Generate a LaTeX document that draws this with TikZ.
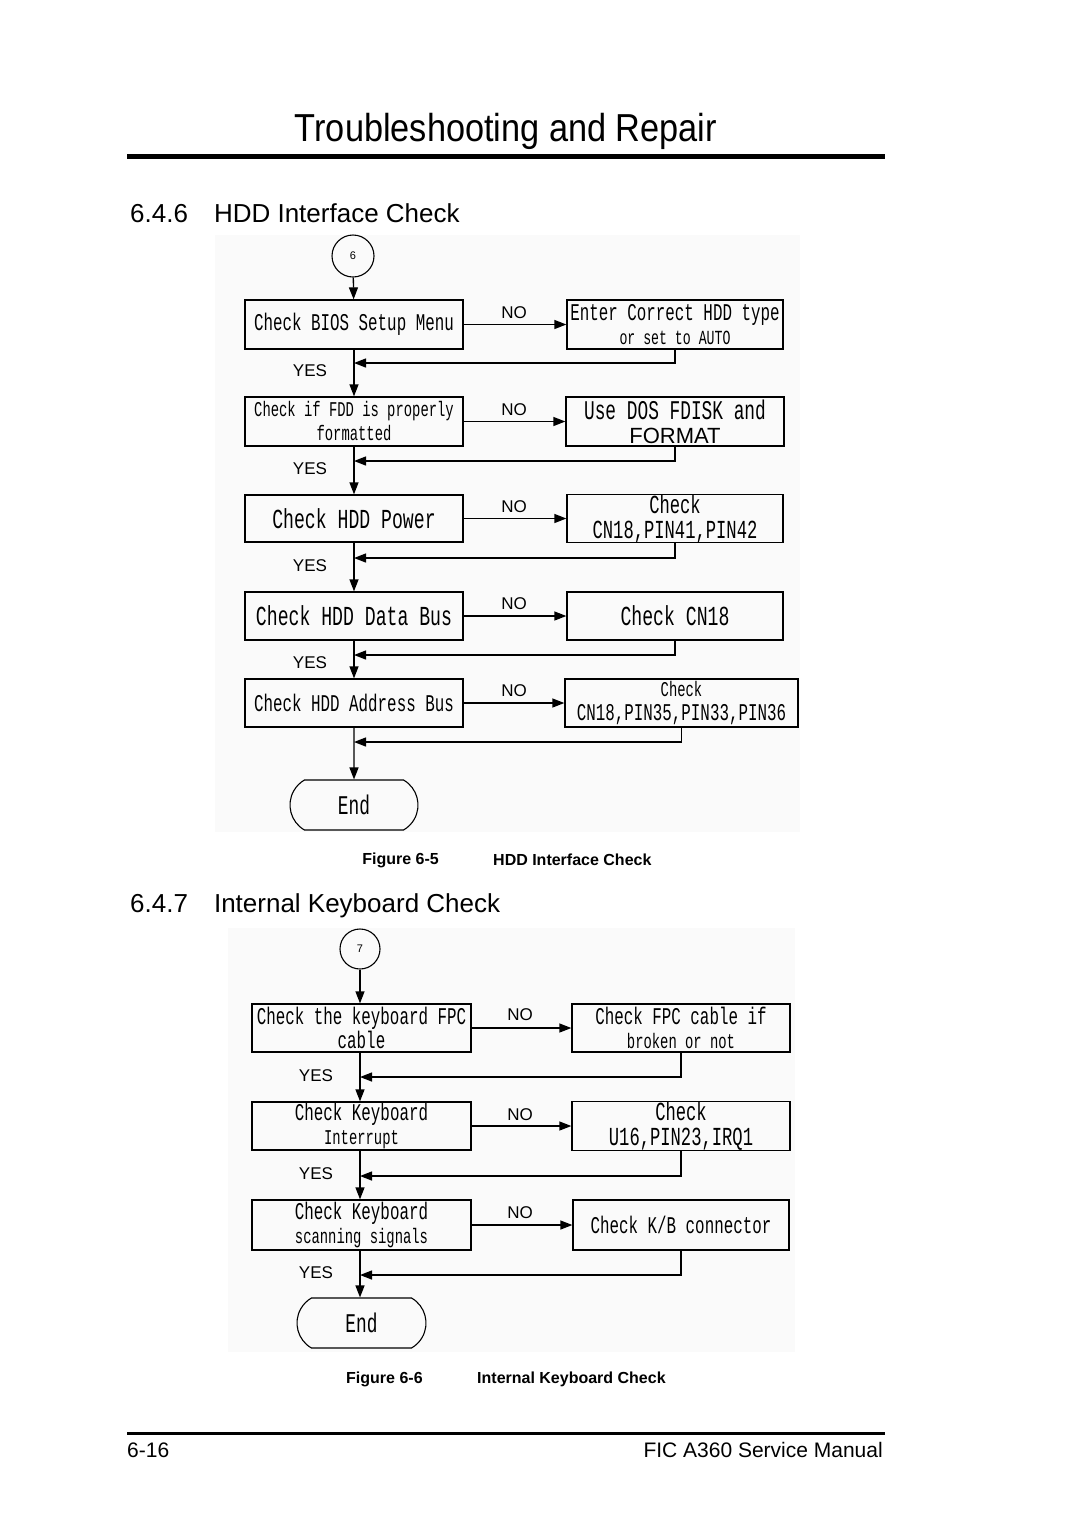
\documentclass[tikz,border=0pt]{standalone}
\usepackage{fontspec}
\setmainfont{Liberation Sans}
\newfontfamily\boxfont[FakeStretch=0.66]{Liberation Mono}
\newfontfamily\narrowfont[FakeStretch=0.88]{Liberation Sans}
\usetikzlibrary{arrows.meta,shapes.misc}
\newcommand\fsz[1]{\fontsize{#1}{24}\selectfont}
\tikzset{
  lbox/.style={draw, line width=1.3pt, minimum width=218pt, minimum height=49pt,
    inner sep=0pt, align=center, font=\boxfont\fsz{24}},
  rbox/.style={lbox, minimum width=216pt},
  endbox/.style={draw, line width=1.1pt, rounded rectangle, rounded rectangle arc length=120,
    minimum width=128pt, minimum height=50pt, inner sep=0pt, font=\boxfont\fsz{27}},
  conn/.style={draw, line width=1.1pt, circle, minimum size=42pt, inner sep=0pt,
    font=\fontsize{11}{11}\selectfont},
  arr/.style={line width=1.3pt, -{Triangle[length=12pt,width=9pt]}},
  lbl/.style={inner sep=0pt, font=\fontsize{17}{17}\selectfont},
  txt/.style={inner sep=0pt},
  capfig/.style={inner sep=0pt, font=\bfseries\fontsize{16}{16}\selectfont},
  sect/.style={inner sep=0pt, anchor=west, font=\fontsize{26}{26}\selectfont},
  bg/.style={fill=black!2, draw=none}
}
\begin{document}
\begin{tikzpicture}[x=1pt,y=-1pt]
\useasboundingbox (0,0) rectangle (1080,1527);
\fill[white] (0,0) rectangle (1080,1527);
% header
\node[txt, font=\narrowfont\fontsize{39}{39}\selectfont] (title) at (506,131) {Troubleshooting and Repair};
\draw[line width=5pt] (127,156) -- (885,156);
\node[sect] (sec1) at (130,213) {6.4.6\hspace{26pt}HDD Interface Check};
% background of figure 1
\path[bg] (215,235) rectangle (800,832);
% ---------------- HDD chart
\node[conn] (c6) at (353,256) {6};
\node[lbox] (b1) at (354,324.5) {Check BIOS Setup Menu};
\node[rbox] (r1) at (675,324.5) {Enter Correct HDD type\\{\fsz{20}or set to AUTO}};
\node[lbox] (b2) at (354,421.5) {\fsz{21}Check if FDD is properly\\\fsz{21}formatted};
\node[rbox, minimum width=218pt] (r2) at (675,421.5) {\fontsize{27}{25}\selectfont Use DOS FDISK and\\{\rmfamily\fontsize{22}{25}\selectfont FORMAT}};
\node[lbox, minimum height=47pt, font=\boxfont\fsz{27.5}] (b3) at (354,518.5) {Check HDD Power};
\node[rbox, minimum height=47pt, font=\boxfont\fontsize{26}{25}\selectfont] (r3) at (675,518.5) {Check\\CN18,PIN41,PIN42};
\node[lbox, minimum height=48pt, font=\boxfont\fsz{27.5}] (b4) at (354,616) {Check HDD Data Bus};
\node[rbox, minimum height=48pt, font=\boxfont\fsz{27.5}] (r4) at (675,616) {Check CN18};
\node[lbox, minimum height=48pt] (b5) at (354,703) {Check HDD Address Bus};
\node[rbox, minimum width=233pt, minimum height=48pt] (r5) at (681.5,703) {{\fsz{21}Check}\\CN18,PIN35,PIN33,PIN36};
\node[endbox] (e1) at (354,805) {End};

\coordinate (j1) at (354,363);
\coordinate (j2) at (354,461);
\coordinate (j3) at (354,558);
\coordinate (j4) at (354,655);
\coordinate (j5) at (354,742);

\draw[arr] (c6) -- (b1);
\draw[arr] (b1) -- (b2);
\draw[arr] (b2) -- (b3);
\draw[arr] (b3) -- (b4);
\draw[arr] (b4) -- (b5);
\draw[arr] (b5) -- (e1);
\foreach \i in {1,...,5} {
  \draw[arr] (b\i) -- (r\i);
  \draw[arr] (r\i.south) |- (j\i);
}
\node[lbl] (no1) at (514,313) {NO};
\node[lbl] (no2) at (514,409.5) {NO};
\node[lbl] (no3) at (514,507) {NO};
\node[lbl] (no4) at (514,604) {NO};
\node[lbl] (no5) at (514,691) {NO};
\node[lbl] (yes1) at (310,371) {YES};
\node[lbl] (yes2) at (310,468.5) {YES};
\node[lbl] (yes3) at (310,565.5) {YES};
\node[lbl] (yes4) at (310,663) {YES};

\node[capfig, anchor=east] (fig5) at (439,860) {Figure 6-5};
\node[capfig, anchor=west] (cap5) at (493,860) {HDD Interface Check};

% ---------------- Keyboard chart
\node[sect] (sec2) at (130,906) {6.4.7\hspace{26pt}Internal Keyboard Check};
\path[bg] (228,928) rectangle (795,1352);

\node[conn, minimum size=40pt] (c7) at (360,949) {7};
\node[lbox, minimum width=219pt, minimum height=48pt] (k1) at (361.5,1028) {Check the keyboard FPC\\cable};
\node[rbox, minimum width=218pt, minimum height=48pt] (kr1) at (681,1028) {Check FPC cable if\\\fsz{21}broken or not};
\node[lbox, minimum width=219pt, minimum height=48pt] (k2) at (361.5,1126) {Check Keyboard\\\fsz{21}Interrupt};
\node[rbox, minimum width=218pt, minimum height=48pt, font=\boxfont\fontsize{26}{25}\selectfont] (kr2) at (681,1126) {Check\\U16,PIN23,IRQ1};
\node[lbox, minimum width=219pt, minimum height=50pt] (k3) at (361.5,1225) {Check Keyboard\\\fsz{21}scanning signals};
\node[rbox, minimum height=50pt] (kr3) at (681,1225) {Check K/B connector};
\node[endbox, minimum width=129pt] (e2) at (361.5,1323) {End};

\coordinate (m1) at (360,1077);
\coordinate (m2) at (360,1176);
\coordinate (m3) at (360,1275);

\draw[arr] (c7) -- (c7 |- k1.north);
\draw[arr] (k1.south -| c7) -- (k2.north -| c7);
\draw[arr] (k2.south -| c7) -- (k3.north -| c7);
\draw[arr] (k3.south -| c7) -- (e2.north -| c7);
\draw[arr] (k1) -- (kr1);
\draw[arr] (k2) -- (kr2);
\draw[arr] (k3) -- (kr3);
\draw[arr] (kr1.south) |- (m1);
\draw[arr] (kr2.south) |- (m2);
\draw[arr] (kr3.south) |- (m3);
\node[lbl] (kno1) at (520,1015) {NO};
\node[lbl] (kno2) at (520,1115) {NO};
\node[lbl] (kno3) at (520,1213) {NO};
\node[lbl] (kyes1) at (316,1076) {YES};
\node[lbl] (kyes2) at (316,1174) {YES};
\node[lbl] (kyes3) at (316,1273) {YES};

\node[capfig, anchor=west] (fig6) at (346,1379) {Figure 6-6};
\node[capfig, anchor=west] (cap6) at (477,1379) {Internal Keyboard Check};

% footer
\draw[line width=3pt] (127,1433) -- (885,1433);
\node[txt, anchor=west, font=\fontsize{21}{21}\selectfont] (pg) at (127,1450) {6-16};
\node[txt, anchor=east, font=\fontsize{21}{21}\selectfont] (man) at (883,1450) {FIC A360 Service Manual};
\end{tikzpicture}
\end{document}
